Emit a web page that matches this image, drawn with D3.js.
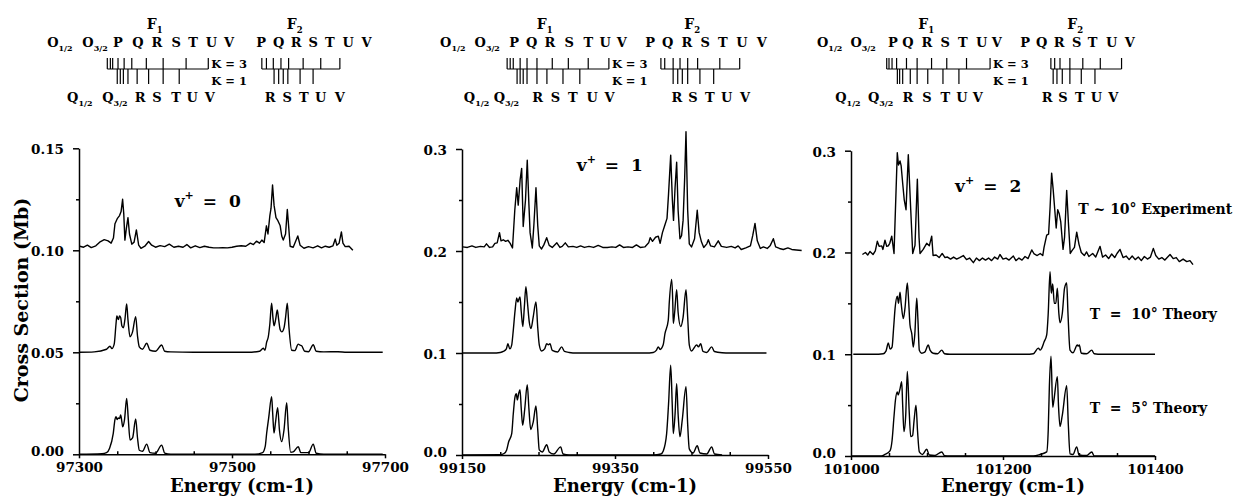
<!DOCTYPE html>
<html>
<head>
<meta charset="utf-8">
<script src="https://cdn.jsdelivr.net/npm/d3@7"></script>
<style>
  body { margin: 0; background: #fff; }
  text { font-family: "DejaVu Serif", serif; font-weight: bold; fill: #000; white-space: pre; }
</style>
</head>
<body>
<div id="chart"></div>
<script>
// ---- axes ----
var energyDomains = [[97300, 97700], [99150, 99550], [101000, 101400]];
var yMaxes = [0.15, 0.3, 0.3];
var xMajorTicks = [[97300, 97500, 97700], [99150, 99350, 99550], [101000, 101200, 101400]];
var yTicks1 = [0, 0.05, 0.10, 0.15];
var yTickLabels1 = ['0.00', '0.05', '0.10', '0.15'];
var yTicks23 = [0, 0.1, 0.2, 0.3];
var yTickLabels23 = ['0.0', '0.1', '0.2', '0.3'];
var stateLabels = ['0', '1', '2'];
var stateLabelAt = [[97425, 0.121], [99300, 0.278], [101137, 0.2595]];
var seriesLabels = ['T ~ 10° Experiment', 'T  =  10° Theory', 'T  =  5° Theory'];
var seriesLabelAt = [[101299, 0.238], [101314, 0.135], [101314, 0.0425]];

// ---- v+ = 0 ----
var expV0 = [[97301,0.102],[97306,0.1015],[97311,0.1025],[97316,0.1013],[97322,0.1022],[97327,0.104],[97333,0.1052],[97338,0.1046],[97342,0.1035],[97345,0.106],[97347,0.113],[97350,0.1155],[97353,0.117],[97355,0.119],[97357,0.125],[97358.5,0.118],[97360,0.105],[97362,0.111],[97364,0.116],[97366,0.108],[97369,0.103],[97372,0.104],[97375,0.110],[97378,0.1025],[97381,0.101],[97386,0.102],[97391,0.1043],[97395,0.1025],[97400,0.1015],[97406,0.1023],[97412,0.1018],[97418,0.103],[97424,0.1015],[97430,0.102],[97436,0.1015],[97441,0.1028],[97446,0.1012],[97452,0.1022],[97458,0.1013],[97464,0.102],[97470,0.1015],[97476,0.1012],[97482,0.1012],[97488,0.1013],[97494,0.1012],[97500,0.1015],[97506,0.102],[97512,0.1022],[97518,0.102],[97524,0.1035],[97528,0.1028],[97532,0.1045],[97536,0.1035],[97539,0.105],[97542,0.1038],[97545,0.112],[97547,0.108],[97549.5,0.117],[97551,0.1205],[97553,0.132],[97555,0.122],[97557.5,0.116],[97560,0.1145],[97563,0.112],[97565,0.107],[97567,0.105],[97570,0.108],[97572.3,0.120],[97574,0.112],[97576,0.102],[97580,0.1015],[97586,0.107],[97589,0.1025],[97594,0.101],[97600,0.1018],[97606,0.1012],[97612,0.1022],[97617,0.1012],[97622,0.102],[97627,0.1015],[97632,0.1022],[97635,0.1055],[97637,0.1025],[97640,0.1035],[97643,0.109],[97645,0.1035],[97648,0.1018],[97653,0.102],[97658,0.1]];
var t10V0 = [[97300,0.05],[97320,0.0502],[97336,0.0515],[97340.5,0.053],[97343,0.0518],[97346,0.054],[97348.4,0.064],[97349.5,0.0678],[97351.5,0.066],[97353,0.0678],[97354.5,0.067],[97356,0.063],[97358,0.062],[97360,0.066],[97362.3,0.0737],[97364,0.066],[97366.7,0.0576],[97370,0.060],[97374.1,0.0675],[97376.5,0.058],[97378.8,0.0527],[97383,0.0515],[97388.5,0.0544],[97392.8,0.051],[97400,0.0505],[97408.1,0.0536],[97412,0.0505],[97420,0.0502],[97450,0.05],[97520,0.05],[97536,0.0505],[97540.9,0.052],[97543.1,0.051],[97545.3,0.055],[97547.4,0.0575],[97549.5,0.064],[97551.8,0.0741],[97553.5,0.067],[97554.9,0.063],[97557,0.066],[97559.2,0.0707],[97561,0.066],[97563,0.061],[97565,0.060],[97568,0.062],[97570,0.067],[97572.3,0.0741],[97574.5,0.062],[97578,0.051],[97582,0.0508],[97586.6,0.054],[97589,0.0535],[97591.1,0.0532],[97595,0.0505],[97600,0.0503],[97606.2,0.0537],[97610,0.0505],[97620,0.0502],[97638.5,0.0503],[97650,0.05],[97697,0.05]];
var t5V0 = [[97300,0],[97330,0.0003],[97336,0.0008],[97340,0.003],[97344.8,0.0103],[97347,0.017],[97348.4,0.0184],[97349.8,0.017],[97351.4,0.0178],[97353,0.0175],[97354.5,0.0193],[97356,0.016],[97357.1,0.0135],[97359.5,0.017],[97362.3,0.0274],[97364.5,0.017],[97366.7,0.007],[97370,0.008],[97374.1,0.0173],[97376.5,0.008],[97378.8,0.002],[97383,0.0015],[97388.5,0.005],[97392.8,0.0008],[97400,0.0005],[97408.1,0.0045],[97412,0.0006],[97420,0.0001],[97530,0],[97540,0.0008],[97543.5,0.004],[97545.3,0.0103],[97548,0.018],[97551.8,0.0282],[97553.2,0.02],[97554.9,0.0104],[97557,0.016],[97559.7,0.0229],[97562,0.012],[97565,0.0062],[97568,0.012],[97571.5,0.0253],[97573.5,0.013],[97576.7,0.001],[97580,0.0012],[97586.6,0.0037],[97590,0.0008],[97600,0.0008],[97606.2,0.005],[97610,0.0005],[97620,0],[97697,0]];

// ---- v+ = 1 ----
var expV1 = [[99151,0.204],[99157,0.2035],[99163,0.205],[99168,0.2035],[99174,0.2045],[99179,0.204],[99182,0.207],[99186,0.2035],[99190,0.204],[99193,0.2075],[99196,0.208],[99199,0.218],[99201,0.210],[99204,0.211],[99207,0.2095],[99210,0.2105],[99213,0.2075],[99216,0.203],[99219,0.240],[99221.5,0.262],[99223.5,0.245],[99226,0.270],[99228,0.281],[99230,0.224],[99233,0.250],[99235.3,0.289],[99237.5,0.245],[99239,0.218],[99241.9,0.203],[99244,0.226],[99246.7,0.262],[99249,0.225],[99251,0.205],[99254,0.202],[99257,0.206],[99260.7,0.213],[99264,0.2055],[99268,0.2035],[99274,0.208],[99278,0.2035],[99281,0.2045],[99285,0.208],[99289,0.204],[99295,0.2045],[99300,0.2035],[99305,0.205],[99310,0.2035],[99316,0.2045],[99322,0.2035],[99328,0.2055],[99334,0.2035],[99340,0.2035],[99346,0.204],[99351,0.2035],[99356,0.206],[99361,0.2035],[99367,0.204],[99373,0.2035],[99378,0.206],[99383,0.2035],[99389,0.204],[99394,0.208],[99396,0.213],[99399,0.2095],[99403,0.2135],[99406.6,0.2145],[99409,0.2075],[99412,0.218],[99415,0.225],[99418,0.232],[99420,0.256],[99422.8,0.294],[99425,0.25],[99426.5,0.230],[99428.5,0.262],[99430.6,0.287],[99432.5,0.24],[99434.9,0.212],[99437,0.215],[99439,0.23],[99441,0.27],[99442.8,0.317],[99445,0.24],[99447.1,0.207],[99450,0.204],[99454,0.212],[99457.5,0.240],[99460,0.218],[99463,0.209],[99466,0.2035],[99470,0.207],[99472,0.211],[99475,0.205],[99480,0.204],[99485,0.210],[99489,0.2045],[99496,0.2035],[99502,0.2045],[99507,0.203],[99511,0.205],[99515,0.2015],[99521,0.203],[99527,0.205],[99530,0.215],[99533,0.227],[99536,0.210],[99540,0.2025],[99544,0.204],[99549,0.2025],[99553,0.2055],[99557,0.212],[99560,0.204],[99565,0.2025],[99570,0.2015],[99576,0.203],[99581,0.2015],[99587,0.201],[99594,0.2005]];
var t10V1 = [[99150,0.1],[99190,0.1],[99200,0.1005],[99204,0.1015],[99208,0.104],[99210,0.109],[99212.5,0.104],[99215,0.108],[99217,0.122],[99219.3,0.141],[99221.5,0.154],[99223,0.150],[99224.5,0.153],[99225.8,0.155],[99227.5,0.140],[99229.5,0.126],[99231.5,0.145],[99233.5,0.165],[99235.5,0.150],[99238,0.130],[99240.2,0.124],[99243,0.135],[99246.7,0.150],[99249,0.125],[99251,0.108],[99254,0.102],[99258,0.104],[99260.7,0.109],[99263,0.108],[99265,0.109],[99268,0.1025],[99275,0.101],[99280.3,0.106],[99284,0.1015],[99290,0.1005],[99300,0.1],[99390,0.1],[99400,0.1005],[99404,0.1025],[99406.6,0.106],[99409,0.1035],[99413,0.108],[99415.3,0.119],[99419.6,0.132],[99421,0.150],[99424.1,0.172],[99425.5,0.150],[99426.2,0.129],[99428,0.140],[99430.6,0.162],[99432.5,0.140],[99435.9,0.126],[99439,0.135],[99442.8,0.162],[99445,0.135],[99447.1,0.108],[99450,0.102],[99456.8,0.108],[99459,0.106],[99462,0.109],[99465,0.1015],[99470,0.1005],[99476.4,0.106],[99480,0.1015],[99490,0.1003],[99500,0.1],[99548,0.1]];
var t5V1 = [[99150,0],[99200,0.0003],[99205,0.0015],[99208.4,0.005],[99211,0.013],[99215,0.021],[99217,0.040],[99219.3,0.057],[99221,0.060],[99222.3,0.054],[99224,0.060],[99225.8,0.064],[99227.5,0.045],[99229.3,0.029],[99232,0.045],[99235.3,0.069],[99237.5,0.045],[99239.8,0.025],[99243,0.032],[99246.7,0.048],[99249,0.025],[99251,0.005],[99255,0.003],[99260.7,0.010],[99264,0.003],[99270,0.001],[99279,0.008],[99282,0.001],[99290,0],[99400,0],[99410,0.001],[99413.1,0.004],[99417.5,0.021],[99420,0.050],[99422.8,0.088],[99424.8,0.050],[99426.2,0.021],[99428.5,0.040],[99430.6,0.070],[99432.5,0.040],[99434.9,0.018],[99438,0.035],[99442.8,0.067],[99445,0.030],[99447.1,0.006],[99452,0.002],[99457.5,0.009],[99461,0.002],[99470,0.001],[99476.4,0.008],[99480,0.001],[99490,0]];

// ---- v+ = 2 ----
var expV2 = [[101015,0.198],[101019,0.2],[101022,0.1975],[101025,0.201],[101029,0.198],[101032,0.2015],[101034.6,0.211],[101037,0.206],[101040.4,0.2065],[101042,0.203],[101044.7,0.212],[101047,0.206],[101049,0.2065],[101051,0.209],[101053.6,0.216],[101056.6,0.199],[101060.9,0.298],[101062.5,0.286],[101064.5,0.290],[101066,0.285],[101068,0.268],[101070,0.252],[101072.4,0.242],[101075.4,0.296],[101078.6,0.242],[101081.2,0.199],[101084.2,0.207],[101087.3,0.272],[101089.5,0.215],[101090.8,0.199],[101095,0.203],[101099.6,0.209],[101103,0.2065],[101106.2,0.216],[101108,0.197],[101112,0.1975],[101116,0.195],[101120,0.199],[101123.7,0.195],[101127,0.1955],[101131,0.1935],[101135,0.1955],[101139,0.1935],[101143,0.195],[101147.8,0.197],[101152,0.193],[101156,0.1945],[101161,0.190],[101165,0.1945],[101169,0.192],[101173,0.1945],[101177,0.1925],[101181,0.1945],[101185,0.192],[101189,0.1955],[101193,0.1935],[101196,0.198],[101200,0.1935],[101204,0.1945],[101208,0.1925],[101213.6,0.1965],[101217,0.192],[101221,0.1945],[101225,0.1925],[101229,0.196],[101233,0.194],[101237.8,0.2025],[101241,0.1985],[101245,0.197],[101249,0.199],[101252.3,0.197],[101254,0.205],[101257.5,0.217],[101260,0.218],[101262,0.245],[101264,0.278],[101266,0.262],[101268,0.243],[101270,0.224],[101272,0.242],[101274,0.238],[101276,0.230],[101279,0.203],[101281,0.215],[101283.8,0.261],[101286,0.230],[101288.5,0.199],[101291,0.202],[101294,0.205],[101297,0.220],[101300,0.208],[101303,0.2],[101307,0.197],[101310,0.2005],[101313,0.196],[101318,0.199],[101322,0.1955],[101327.7,0.206],[101331,0.1955],[101335,0.1975],[101339,0.194],[101343,0.1985],[101347,0.195],[101350,0.199],[101354,0.203],[101358,0.195],[101362,0.1965],[101366,0.193],[101370,0.1965],[101374,0.193],[101378,0.1955],[101382,0.192],[101386,0.196],[101390,0.1935],[101394,0.1955],[101397.8,0.204],[101401,0.197],[101405,0.1935],[101409,0.195],[101413,0.1925],[101419.8,0.198],[101424,0.194],[101428,0.195],[101432,0.191],[101437,0.1935],[101441.8,0.191],[101446,0.192],[101450,0.188]];
var t10V2 = [[101003,0.1],[101030,0.1],[101042.5,0.1005],[101046,0.103],[101049.1,0.111],[101051.5,0.105],[101054,0.107],[101056,0.125],[101058,0.145],[101060.9,0.157],[101062.5,0.150],[101064.5,0.161],[101066,0.150],[101068.8,0.135],[101071,0.145],[101074.1,0.170],[101076,0.150],[101077.6,0.129],[101080,0.120],[101082,0.107],[101084,0.120],[101086.5,0.155],[101088,0.135],[101089.9,0.104],[101093,0.101],[101097,0.102],[101101.7,0.109],[101104,0.104],[101108,0.101],[101114,0.1005],[101119.4,0.104],[101123,0.1005],[101130,0.1],[101230,0.1],[101240,0.1005],[101246.5,0.106],[101249,0.104],[101251,0.106],[101254,0.112],[101257.5,0.119],[101259.5,0.140],[101261.9,0.181],[101263.5,0.160],[101265.4,0.169],[101267.5,0.150],[101269.5,0.150],[101271.5,0.165],[101273.5,0.140],[101275,0.131],[101278,0.140],[101281,0.165],[101283.8,0.170],[101285.5,0.140],[101288.2,0.104],[101292,0.1015],[101297.8,0.109],[101299,0.108],[101300.4,0.109],[101303,0.101],[101310,0.1005],[101316.8,0.104],[101320,0.1005],[101330,0.1],[101400,0.1]];
var t5V2 = [[101000,0],[101040,0],[101044.7,0.0015],[101051.3,0.005],[101054,0.015],[101056.6,0.039],[101058.5,0.055],[101060.9,0.063],[101062,0.060],[101064.5,0.066],[101066.7,0.073],[101068,0.050],[101069.7,0.024],[101072,0.040],[101074.1,0.083],[101076.5,0.045],[101078.6,0.019],[101081,0.020],[101083,0.035],[101085.5,0.050],[101087.5,0.025],[101089.9,0.004],[101094,0.0015],[101099.6,0.0066],[101103,0.001],[101110,0.0005],[101119.4,0.004],[101123,0.0003],[101130,0],[101240,0],[101248.7,0.0015],[101257.5,0.004],[101259.5,0.025],[101261,0.068],[101263.2,0.098],[101265.4,0.048],[101267,0.055],[101271.5,0.078],[101273,0.050],[101275,0.029],[101278,0.040],[101283.8,0.069],[101286,0.030],[101288.2,0.002],[101292,0.0015],[101297,0.009],[101300,0.001],[101310,0.0005],[101316.8,0.004],[101320,0],[101400,0]];

// ---- branch assignment diagram above each panel ----
var branchTop = ['O_1/2','O_3/2','P','Q','R','S','T','U','V','P','Q','R','S','T','U','V'];
var branchBottom = ['Q_1/2','Q_3/2','R','S','T','U','V','R','S','T','U','V'];
var branchTopE = [
  [97275,97321,97351,97377,97402,97427,97449,97473,97496,97538,97561,97584,97606,97628,97652,97676],
  [99138,99183,99218,99241,99265,99290,99315,99337,99359,99396,99419,99444,99468,99491,99516,99542],
  [100972,101016,101055,101075,101100,101124,101147,101172,101192,101229,101251,101274,101297,101318,101343,101367]];
var branchBottomE = [
  [97301,97347,97380,97402,97427,97448,97471,97550,97572,97594,97616,97641],
  [99169,99208,99249,99272,99295,99320,99343,99431,99452,99474,99496,99520],
  [100996,101039,101075,101100,101124,101146,101167,101258,101279,101301,101323,101345]];
var spinHeaders = ['F_1', 'F_2'];
var spinHeaderE = [[97399, 97582], [99258, 99451], [101099, 101295]];
var k3F1 = [
  [97337,97341,97344,97351,97359,97369,97388,97410,97440,97469],
  [99209,99213,99217,99226,99235,99248,99268,99289,99315,99342],
  [101047,101050,101054,101060,101073,101087,101106,101126,101152,101183]];
var k1F1 = [
  [97350,97354,97358,97364,97376,97391,97410,97431],
  [99222,99226,99230,99235,99248,99261,99282,99304],
  [101061,101064,101068,101078,101087,101101,101121,101142]];
var k3F2 = [
  [97539,97545,97554,97564,97574,97593,97616,97641],
  [99410,99415,99426,99435,99445,99458,99487,99513],
  [101263,101268,101275,101288,101305,101328,101356]];
var k1F2 = [
  [97555,97561,97567,97573,97589,97606],
  [99426,99432,99438,99445,99461,99479],
  [101266,101271,101278,101288,101303,101321]];

var experiment = [expV0, expV1, expV2];
var theory10 = [t10V0, t10V1, t10V2];
var theory5 = [t5V0, t5V1, t5V2];

// ---- layout ----
var W = 1242, H = 498;
var frames = [
  {left: 79, right: 385, top: 148.3, bottom: 454.3},
  {left: 462, right: 768, top: 149, bottom: 455},
  {left: 851, right: 1155, top: 150.7, bottom: 456}];

var svg = d3.select('#chart').append('svg')
  .attr('width', W).attr('height', H)
  .style('display', 'block');
svg.append('rect').attr('width', W).attr('height', H).attr('fill', '#fff');

function subText(sel, label, size, subSize) {
  var parts = label.split('_');
  sel.text(null);
  sel.append('tspan').text(parts[0]);
  if (parts[1]) {
    sel.append('tspan')
      .attr('font-size', subSize)
      .attr('dy', size * 0.28)
      .text(parts[1]);
  }
}

frames.forEach(function(f, p) {
  var x = d3.scaleLinear().domain(energyDomains[p]).range([f.left, f.right]);
  var y = d3.scaleLinear().domain([0, yMaxes[p]]).range([f.bottom, f.top]);
  var g = svg.append('g').attr('class', 'panel');

  var yt = p === 0 ? yTicks1 : yTicks23;
  var yl = p === 0 ? yTickLabels1 : yTickLabels23;
  var minorY = d3.range(yt.length - 1).map(function(i) { return (yt[i] + yt[i + 1]) / 2; });
  var minorX = d3.range(energyDomains[p][0], energyDomains[p][1] + 1, 50)
    .filter(function(v) { return xMajorTicks[p].indexOf(v) < 0; });

  // y axis
  var ya = g.append('g').attr('transform', 'translate(' + f.left + ',0)')
    .call(d3.axisLeft(y).tickValues(yt).tickSize(6).tickSizeOuter(0).tickPadding(9)
      .tickFormat(function(d, i) { return yl[i]; }));
  ya.append('g').call(d3.axisLeft(y).tickValues(minorY).tickSize(3).tickFormat(''))
    .call(function(s) { s.select('.domain').remove(); });
  ya.selectAll('.tick text').attr('font-size', 13.5).attr('font-family', '"DejaVu Serif", serif')
    .attr('font-weight', 'bold')
    .attr('dy', function(d) { return d === 0 ? '0.1em' : '0.4em'; });

  // x axis
  var xa = g.append('g').attr('transform', 'translate(0,' + f.bottom + ')')
    .call(d3.axisBottom(x).tickValues(xMajorTicks[p]).tickSize(4).tickSizeOuter(0).tickPadding(4)
      .tickFormat(d3.format('d')));
  xa.append('g').call(d3.axisTop(x).tickValues(minorX).tickSize(3).tickFormat(''))
    .call(function(s) { s.select('.domain').remove(); });
  xa.selectAll('text').attr('font-size', 13.5).attr('font-family', '"DejaVu Serif", serif')
    .attr('font-weight', 'bold');

  svg.selectAll('.domain, .tick line').attr('stroke', '#000').attr('stroke-width', 1.5);

  // axis title
  g.append('text')
    .attr('x', (f.left + f.right) / 2 + 10).attr('y', 492)
    .attr('text-anchor', 'middle').attr('font-size', 18)
    .text('Energy (cm-1)');

  // spectra
  var lineSmooth = d3.line().curve(d3.curveMonotoneX)
    .x(function(d) { return x(d[0]); }).y(function(d) { return y(d[1]); });
  var lineRaw = d3.line()
    .x(function(d) { return x(d[0]); }).y(function(d) { return y(d[1]); });

  g.selectAll('.spec')
    .data([[theory5[p], lineSmooth], [theory10[p], lineSmooth], [experiment[p], lineRaw]])
    .enter().append('path')
    .attr('class', 'spec')
    .attr('fill', 'none').attr('stroke', '#000').attr('stroke-width', 1.4)
    .attr('stroke-linejoin', 'round')
    .attr('d', function(d) { return d[1](d[0]); });

  // v+ label
  var vt = g.append('text')
    .attr('x', x(stateLabelAt[p][0])).attr('y', y(stateLabelAt[p][1]))
    .attr('font-size', 17);
  vt.append('tspan').text('v');
  vt.append('tspan').attr('font-size', 11).attr('dy', -8).text('+');
  vt.append('tspan').attr('dy', 8).attr('dx', 9).text('=');
  vt.append('tspan').attr('dx', 12).text(stateLabels[p]);

  // branch diagram
  var d = g.append('g').attr('class', 'diagram');
  d.selectAll('.hdr').data(spinHeaders).enter().append('text')
    .attr('class', 'hdr')
    .attr('x', function(t, i) { return x(spinHeaderE[p][i]); }).attr('y', 29)
    .attr('text-anchor', 'middle').attr('font-size', 14)
    .each(function(t) { subText(d3.select(this), t, 14, 8.5); });
  d.selectAll('.top').data(branchTop).enter().append('text')
    .attr('class', 'top')
    .attr('x', function(t, i) { return x(branchTopE[p][i]); }).attr('y', 47)
    .attr('text-anchor', 'middle').attr('font-size', 13)
    .each(function(t) { subText(d3.select(this), t, 13, 8); });
  d.selectAll('.bot').data(branchBottom).enter().append('text')
    .attr('class', 'bot')
    .attr('x', function(t, i) { return x(branchBottomE[p][i]); }).attr('y', 102)
    .attr('text-anchor', 'middle').attr('font-size', 13)
    .each(function(t) { subText(d3.select(this), t, 13, 8); });

  var yLine = 69, yK3 = 58, yK1 = 84;
  [k3F1[p], k3F2[p]].forEach(function(ticks) {
    d.append('line')
      .attr('x1', x(d3.min(ticks))).attr('x2', x(d3.max(ticks)))
      .attr('y1', yLine).attr('y2', yLine);
    d.selectAll(null).data(ticks).enter().append('line')
      .attr('x1', function(v) { return x(v); }).attr('x2', function(v) { return x(v); })
      .attr('y1', yK3).attr('y2', yLine);
  });
  [k1F1[p], k1F2[p]].forEach(function(ticks) {
    d.selectAll(null).data(ticks).enter().append('line')
      .attr('x1', function(v) { return x(v); }).attr('x2', function(v) { return x(v); })
      .attr('y1', yLine).attr('y2', yK1);
  });
  d.selectAll('line').attr('stroke', '#000').attr('stroke-width', 1.2);

  var kx = x(d3.max(k3F1[p])) + 3;
  d.append('text').attr('x', kx).attr('y', 68).attr('font-size', 11.5).text('K = 3');
  d.append('text').attr('x', kx).attr('y', 85).attr('font-size', 11.5).text('K = 1');

  // series labels on the last panel
  if (p === 2) {
    g.selectAll('.slab').data(seriesLabels).enter().append('text')
      .attr('class', 'slab')
      .attr('x', function(t, i) { return x(seriesLabelAt[i][0]); })
      .attr('y', function(t, i) { return y(seriesLabelAt[i][1]); })
      .attr('font-size', 14)
      .text(function(t) { return t; });
  }
});

svg.append('text')
  .attr('transform', 'translate(28,300) rotate(-90)')
  .attr('text-anchor', 'middle').attr('font-size', 19)
  .text('Cross Section (Mb)');
</script>
</body>
</html>
